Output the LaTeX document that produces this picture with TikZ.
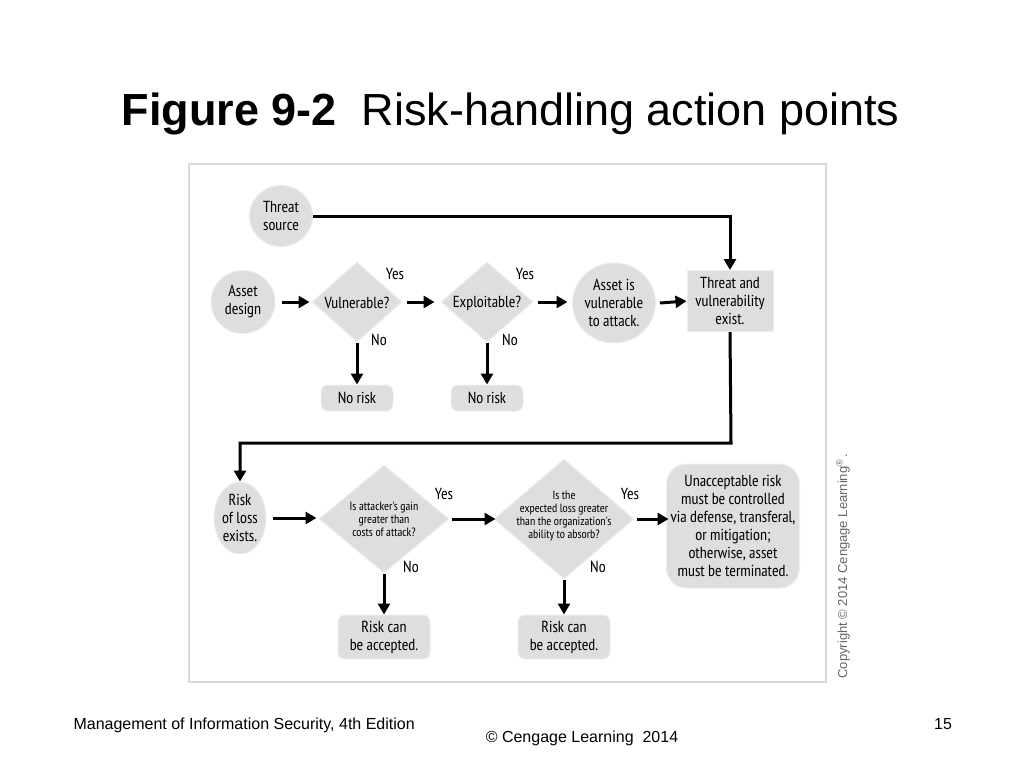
\documentclass[tikz,border=0pt]{standalone}
\usepackage{fontspec}
\setmainfont{Liberation Sans}
\newfontfamily\dia{PT Sans Narrow}
\usetikzlibrary{shapes.geometric,arrows.meta}
\begin{document}
\begin{tikzpicture}[x=1pt,y=-1pt,
  fillc/.style={fill=black!13,draw=black!7,line width=1pt},
  circ/.style={fillc,ellipse,inner sep=0pt,align=center,font=\dia\fontsize{16}{18}\selectfont},
  dia/.style={fillc,diamond,inner sep=0pt,align=center},
  box/.style={fillc,rounded corners=7pt,inner sep=0pt,align=center,font=\dia\fontsize{16}{18}\selectfont},
  lab/.style={font=\dia\fontsize{16}{18}\selectfont},
  arr/.style={line width=3pt,-{Triangle[length=11pt,width=12pt]}}]
\useasboundingbox (0,0) rectangle (1024,768);
\node[anchor=base west,font=\fontsize{45}{52}\selectfont] (title) at (118,125) {\textbf{Figure 9-2}\ \ Risk-handling action points};
\draw[black!15,line width=1.5pt] (189,164) rectangle (826,682);
% row 1
\node[circ,minimum width=63,minimum height=61] (ts) at (281,216) {Threat\\source};
\node[circ,minimum width=64,minimum height=63] (ad) at (243,302) {Asset\\design};
\node[dia,minimum width=90,minimum height=80] (vu) at (357,302) {};
\node[lab] (vut) at (357,303) {Vulnerable?};
\node[dia,minimum width=92,minimum height=80] (ex) at (487,302) {};
\node[lab] (ext) at (487,303) {Exploitable?};
\node[circ,minimum width=66,minimum height=80] (av) at (614,303) {Asset is\\vulnerable\\to attack.};
\node[fillc,rectangle,minimum width=86,minimum height=61,inner sep=0pt,align=center,font=\dia\fontsize{16}{18}\selectfont] (tv) at (730,301) {Threat and\\vulnerability\\exist.};
\node[box,minimum width=72,minimum height=26] (nr1) at (357,398) {No risk};
\node[box,minimum width=72,minimum height=26] (nr2) at (487,398) {No risk};
\draw[arr] (ad.east) ++(6,0) -- ++(28,0);
\draw[arr] (vu.east) ++(4,0) -- ++(28,0);
\draw[arr] (ex.east) ++(4,0) -- ++(30,0);
\draw[arr] (av.east) ++(4,0) -- (tv.west);
\draw[arr] (vu.south) -- (nr1.north);
\draw[arr] (ex.south) -- (nr2.north);
\draw[arr] (ts.east) -| (tv.north);
\node[lab] (y1) at (395,274) {Yes};
\node[lab] (y2) at (525,274) {Yes};
\node[lab] (n1) at (379,340) {No};
\node[lab] (n2) at (510,340) {No};
% row 2
\node[circ,minimum width=52,minimum height=72] (rl) at (240,518) {Risk\\of loss\\exists.};
\node[dia,minimum width=130,minimum height=108] (d1) at (384,519) {};
\node[align=center,font=\dia\fontsize{12}{13}\selectfont] (d1t) at (384,519) {Is attacker's gain\\greater than\\costs of attack?};
\node[dia,minimum width=140,minimum height=120] (d2) at (564,519) {};
\node[align=center,font=\dia\fontsize{12}{13}\selectfont] (d2t) at (564,516) {Is the\\expected loss greater\\than the organization's\\ability to absorb?};
\node[box,rounded corners=20pt,minimum width=133,minimum height=124] (ua) at (733,526) {Unacceptable risk\\must be controlled\\via defense, transferal,\\or mitigation;\\otherwise, asset\\must be terminated.};
\node[box,minimum width=92,minimum height=44] (ra1) at (384,637) {Risk can\\be accepted.};
\node[box,minimum width=92,minimum height=44] (ra2) at (564,637) {Risk can\\be accepted.};
\coordinate (c1) at (731,443);
\coordinate (c2) at (240,443);
\draw[arr] (tv.south) -- (c1) -- (c2) -- (rl.north);
\draw[arr] (rl.east) ++(6,0) -- ++(44,0);
\draw[arr] (d1.east) ++(2,0) -- ++(44,0);
\draw[arr] (d2.east) ++(2,0) -- ++(32,0);
\draw[arr] (d1.south) -- (ra1.north);
\draw[arr] (d2.south) -- (ra2.north);
\node[lab] (y3) at (444,494) {Yes};
\node[lab] (y4) at (630,494) {Yes};
\node[lab] (n3) at (411,567) {No};
\node[lab] (n4) at (598,567) {No};
\node[rotate=90,anchor=west,text=black!60,font=\fontsize{13}{14}\selectfont] (cp) at (843,682) {Copyright © 2014 Cengage Learning\textsuperscript{®}\,.};
% footer
\node[anchor=base west,font=\fontsize{16}{18}\selectfont] (f1) at (70,729) {Management of Information Security, 4th Edition};
\node[anchor=base,font=\fontsize{16}{18}\selectfont] (f2) at (582,742) {© Cengage Learning\ \ 2014};
\node[anchor=base,font=\fontsize{16}{18}\selectfont] (f3) at (943,729) {15};
\end{tikzpicture}
\end{document}
